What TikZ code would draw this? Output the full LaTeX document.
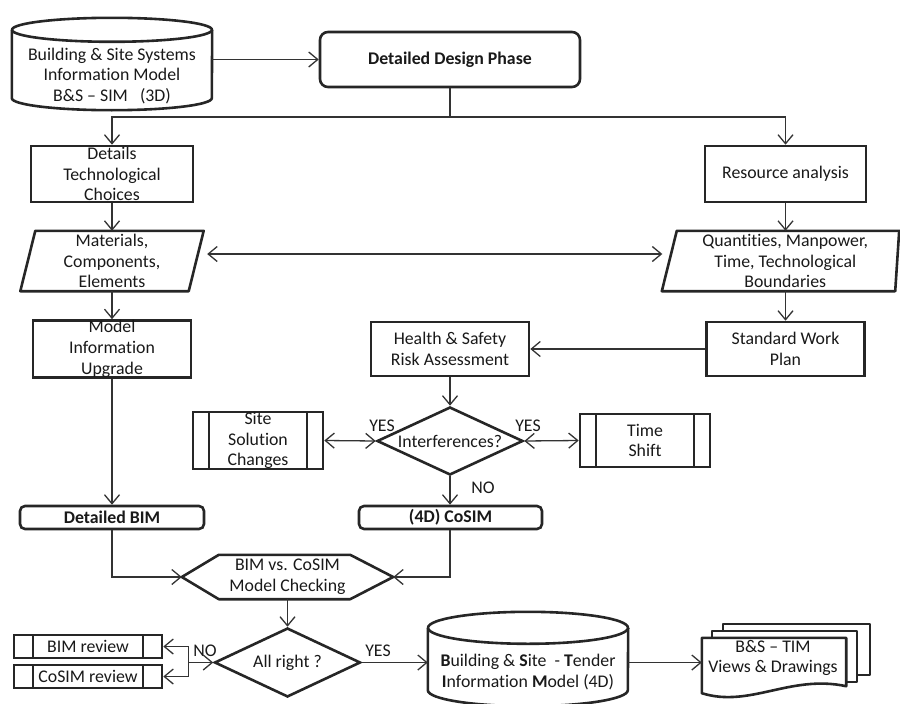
\documentclass[tikz,border=0pt]{standalone}
\usepackage{fontspec}
\setmainfont{Carlito}[Ligatures={TeX,NoCommon}]
\usetikzlibrary{arrows.meta,shapes.geometric,calc}
\newcommand{\fsz}{\fontsize{17.8}{20.8}\selectfont}
\begin{document}
\begin{tikzpicture}[x=1pt,y=-1pt,
  >={Straight Barb[length=9pt,width=15pt]},
  base/.style={font=\fsz, align=center, inner sep=0pt, text=black!90},
  box/.style={base, draw=black!85, line width=2.6pt, rectangle, fill=white},
  rbox/.style={box, rounded corners=#1},
  ghost/.style={base, rectangle},
  shp/.style={draw=black!85, line width=2.6pt, fill=white, line join=round},
  conn/.style={draw=black!80, line width=1.3pt},
  pproc/.style={box, path picture={
      \draw[draw=black!85, line width=2.6pt]
        ([xshift=#1]path picture bounding box.north west) -- ([xshift=#1]path picture bounding box.south west)
        ([xshift=-#1]path picture bounding box.north east) -- ([xshift=-#1]path picture bounding box.south east);}},
  dia/.style={base, diamond, draw=black!85, line width=2.6pt, fill=white, aspect=2.15,
      minimum width=146pt, minimum height=68pt}
]
\useasboundingbox (0,0) rectangle (900,704);

% ---------- top cylinder ----------
\node[ghost, minimum width=200pt, minimum height=92pt] (sim) at (112,64) {};
\draw[shp] ([yshift=-12pt]sim.north west) -- ([yshift=12pt]sim.south west)
   arc[start angle=180, delta angle=-180, x radius=100, y radius=12]
   -- ([yshift=-12pt]sim.north east);
\draw[shp] ([yshift=-12pt]sim.north) ellipse[x radius=100, y radius=12];
\node[base] (simt) at (112,76) {Building \& Site Systems\\Information Model\\B\&S – SIM \ \ (3D)};

% ---------- design phase ----------
\node[rbox=8pt, minimum width=260pt, minimum height=55pt, font=\fsz\bfseries] (dd) at (450,59.5) {Detailed Design Phase};

% ---------- left column ----------
\node[box, minimum width=162pt, minimum height=56pt] (det) at (112,174) {Details\\Technological\\Choices};
\node[ghost, minimum width=168pt, minimum height=60pt] (mat) at (112,261) {Materials,\\Components,\\Elements};
\draw[shp, fill=none] ([xshift=7.5pt]mat.north west) -- ([xshift=7.5pt]mat.north east)
   -- ([xshift=-7.5pt]mat.south east) -- ([xshift=-7.5pt]mat.south west) -- cycle;
\node[box, minimum width=158pt, minimum height=54pt] (miu) at (112,349) {Model\\Information\\Upgrade};
\node[rbox=5pt, minimum width=184pt, minimum height=23pt, font=\fsz\bfseries] (dbim) at (112,517.5) {Detailed BIM};

% ---------- right column ----------
\node[box, minimum width=161pt, minimum height=56pt] (res) at (785.5,174) {Resource analysis};
\node[ghost, minimum width=227.5pt, minimum height=60pt] (quant) at (783.25,261) {\ Quantities, Manpower,\\\ Time, Technological\\\ Boundaries};
\draw[shp, fill=none] ([xshift=7.5pt]quant.north west) -- ([xshift=2pt]quant.north east)
   -- ([xshift=-2pt]quant.south east) -- ([xshift=-7.5pt]quant.south west) -- cycle;
\node[box, minimum width=158pt, minimum height=54pt] (swp) at (785.5,349) {Standard Work\\Plan};

% ---------- middle ----------
\node[box, minimum width=158pt, minimum height=54pt] (hs) at (450,349) {Health \& Safety\\Risk Assessment};
\node[dia] (intf) at (450,441) {Interferences?};
\node[pproc=16pt, minimum width=130pt, minimum height=55pt] (ssc) at (258,440.5) {Site\\Solution\\Changes};
\node[pproc=16pt, minimum width=130pt, minimum height=53pt] (ts) at (645,440.5) {Time\\Shift};
\node[rbox=5pt, minimum width=183pt, minimum height=23pt, font=\fsz\bfseries] (cosim) at (450.5,517.5) {(4D) CoSIM};

\node[ghost, minimum width=211pt, minimum height=44pt] (hex) at (287.5,577) {BIM vs. CoSIM\\Model Checking};
\draw[shp, fill=none] (hex.west) -- ([xshift=37pt]hex.north west) -- ([xshift=-43pt]hex.north east)
   -- (hex.east) -- ([xshift=-43pt]hex.south east) -- ([xshift=37pt]hex.south west) -- cycle;

\node[dia, minimum height=69pt] (ar) at (287.5,662.5) {All right ?};
\node[pproc=19pt, minimum width=148pt, minimum height=23pt] (bimr) at (88,646.5) {BIM review};
\node[pproc=19pt, minimum width=148pt, minimum height=23pt] (cosr) at (88,676.5) {CoSIM review};

% ---------- bottom cylinder ----------
\node[ghost, minimum width=200pt, minimum height=94pt] (tim) at (528,659) {};
\draw[shp] ([yshift=-16pt]tim.north west) -- ([yshift=16pt]tim.south west)
   arc[start angle=180, delta angle=-180, x radius=100, y radius=16]
   -- ([yshift=-16pt]tim.north east);
\draw[shp] ([yshift=-16pt]tim.north) ellipse[x radius=100, y radius=16];
\node[base] (timt) at (528,672) {\textbf{B}uilding \& \textbf{S}ite \ - \textbf{T}ender\\\textbf{I}nformation \textbf{M}odel (4D)};

% ---------- document stack ----------
\draw[shp] (723,624) rectangle (870,675);
\draw[shp] (712,631) rectangle (857,682);
\node[ghost, minimum width=144pt, minimum height=42pt] (docf) at (774,659) {};
\draw[shp] (docf.north west) -- (docf.north east) -- ([yshift=-6pt]docf.south east)
   .. controls +(-56,-12) and +(48,15) .. ([yshift=-13pt]docf.south west) -- cycle;
\node[base] (doct) at (773,658) {B\&S – TIM\\Views \& Drawings};

% ---------- labels ----------
\node[base] (yesl) at (382,426) {YES};
\node[base] (yesr) at (528,426) {YES};
\node[base] (no1) at (483,488) {NO};
\node[base] (no2) at (205,651) {NO};
\node[base] (yes3) at (378,651) {YES};

% ---------- connectors ----------
\coordinate (split) at (450,117);
\draw[conn,->] (sim.east |- dd.west) -- (dd.west);
\draw[conn] (dd.south) -- (split);
\draw[conn,->] (split) -| (det.north);
\draw[conn,->] (split) -| (res.north);
\draw[conn,->] (det.south) -- (mat.north);
\draw[conn,->] (res.south) -- (res.south |- quant.north);
\draw[conn,<->, shorten <=11pt, shorten >=7pt] ([yshift=7pt]mat.east) -- ([yshift=7pt]quant.west);
\draw[conn,->] (mat.south) -- (miu.north);
\draw[conn,->] (swp.north |- quant.south) -- (swp.north);
\draw[conn,->] (swp.west) -- (hs.east);
\draw[conn,->] (hs.south) -- (intf.north);
\draw[conn,<->] (intf.west) -- (ssc.east);
\draw[conn,<->] (intf.east) -- (ts.west);
\draw[conn,->] (intf.south) -- (intf.south |- cosim.north);
\draw[conn,->] (miu.south) -- (dbim.north);
\draw[conn,->] (dbim.south) |- (hex.west);
\draw[conn,->] (intf.south |- cosim.south) |- (hex.east);
\draw[conn,->] (hex.south) -- (ar.north);
\coordinate (jn) at ($(ar.west)+(-25,0)$);
\draw[conn,<->] (bimr.east) -| (jn) -- (ar.west);
\draw[conn,->] (jn) |- (cosr.east);
\draw[conn,->] (ar.east) -- (ar.east -| tim.west);
\draw[conn,->] (tim.east |- ar.east) -- (ar.east -| docf.west);
\end{tikzpicture}
\end{document}
